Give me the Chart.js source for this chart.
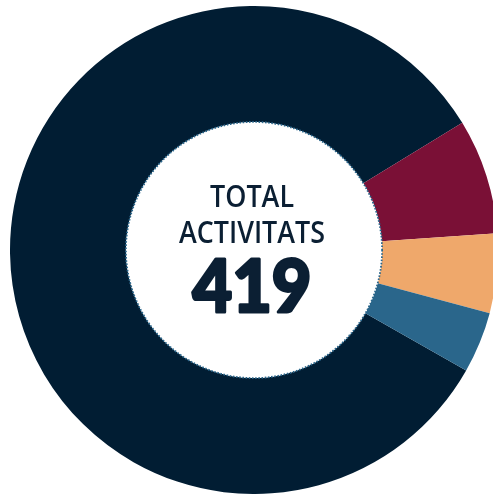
<!DOCTYPE html>
<html>
<head>
<meta charset="utf-8">
<script src="https://cdn.jsdelivr.net/npm/chart.js@4/dist/chart.umd.min.js"></script>
<style>
  html, body { margin: 0; padding: 0; background: #fff; overflow: hidden; width: 493px; height: 495px; }
  #wrap { position: absolute; left: 10px; top: 6px; width: 488px; height: 488px; }
</style>
</head>
<body>
<div id="wrap"><canvas id="donut"></canvas></div>
<script>
// categories and values (total 419)
const categories = ["Activitat A", "Activitat B", "Activitat C", "Activitat D"];
const values = [348, 32, 22, 17];
const colors = ["#011d33", "#7a1036", "#efa86b", "#2a668b"];
const centerTitle = ["TOTAL", "ACTIVITATS"];
const centerValue = values.reduce((a, b) => a + b, 0);

// white disc with dotted edge + total in the middle
const centerText = {
    id: 'centerText',
    afterDatasetsDraw(chart) {
        const arc = chart.getDatasetMeta(0).data[0];
        if (!arc) return;
        const ctx = chart.ctx;
        const cx = arc.x, cy = arc.y, r = arc.innerRadius;
        ctx.save();
        ctx.beginPath();
        ctx.arc(cx, cy, r, 0, Math.PI * 2);
        ctx.fillStyle = '#fff';
        ctx.fill();
        ctx.setLineDash([1.6, 1.6]);
        ctx.lineWidth = 1.8;
        ctx.strokeStyle = '#2a668b';
        ctx.stroke();
        ctx.setLineDash([]);

        ctx.fillStyle = '#0b1f33';
        ctx.strokeStyle = '#0b1f33';
        ctx.textAlign = 'center';
        ctx.textBaseline = 'alphabetic';
        ctx.font = '600 30px "Open Sans", Lato, sans-serif';
        ctx.fillText(centerTitle[0], cx - 2, cy - 43, 84);
        ctx.fillText(centerTitle[1], cx - 2, cy - 7, 146);
        // number is very heavy in the original, thicken with a stroke
        ctx.font = '900 72px Lato, "Open Sans", sans-serif';
        ctx.lineWidth = 3;
        ctx.lineJoin = 'round';
        ctx.strokeText(String(centerValue), cx - 2, cy + 62, 119);
        ctx.fillText(String(centerValue), cx - 2, cy + 62, 119);
        ctx.restore();
    }
};

const chart = new Chart(document.getElementById('donut'), {
    type: 'doughnut',
    data: {
        labels: categories,
        datasets: [{
            data: values,
            backgroundColor: colors,
            borderWidth: 0
        }]
    },
    options: {
        responsive: true,
        maintainAspectRatio: false,
        animation: false,
        rotation: 119.6,
        cutout: '52.5%',
        layout: { padding: 0 },
        plugins: {
            legend: { display: false },
            tooltip: { enabled: false }
        }
    },
    plugins: [centerText]
});
</script>
</body>
</html>
